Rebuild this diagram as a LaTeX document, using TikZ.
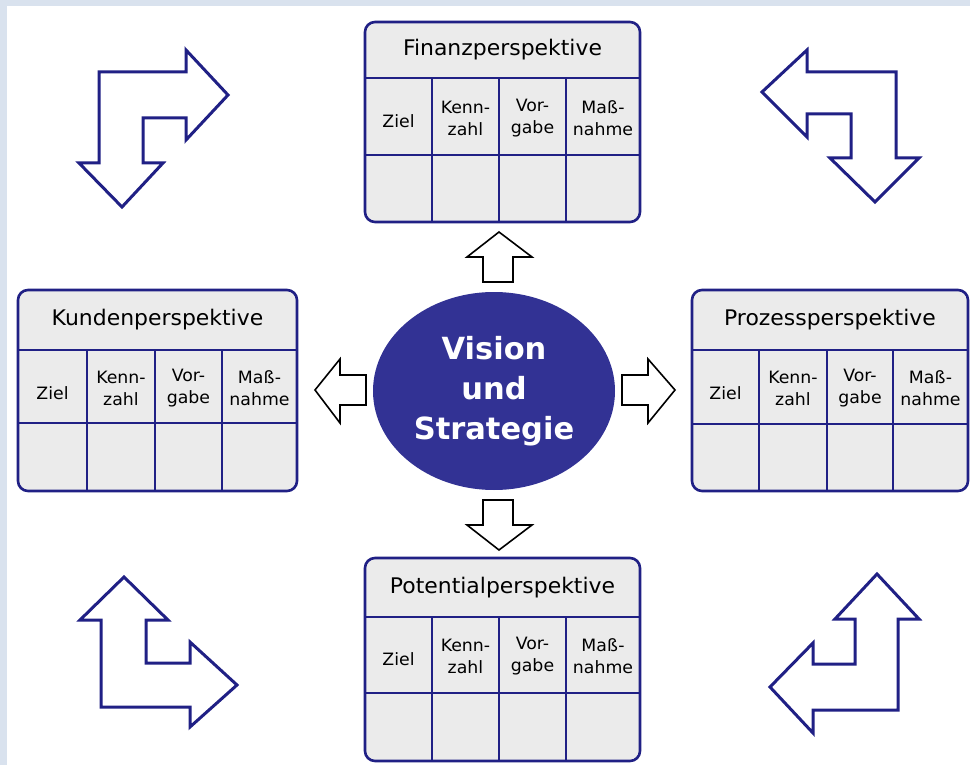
\documentclass[tikz,border=0pt]{standalone}
\usepackage{fontspec}
\usetikzlibrary{shapes.geometric}
\newfontfamily\tabfont[FakeStretch=1.02]{DejaVu Sans}
\newfontfamily\visfont{DejaVu Sans}
\definecolor{bgblue}{HTML}{D9E2EE}
\definecolor{tabgray}{HTML}{EBEBEB}
\definecolor{navy}{HTML}{202085}
\definecolor{visblue}{HTML}{323294}
\begin{document}
\begin{tikzpicture}[x=1pt,y=-1pt,
    tabframe/.style={draw=navy, line width=2.6pt, fill=tabgray, rounded corners=10pt},
    tabline/.style={draw=navy, line width=2.4pt},
    tabtitle/.style={font=\tabfont\fontsize{21.5}{24}\selectfont, inner sep=0pt},
    tabcell/.style={font=\tabfont\fontsize{17}{22}\selectfont, align=center, inner sep=0pt},
    bigarrow/.style={draw=navy, line width=3pt, fill=white},
    smallarrow/.style={draw=black, line width=1.6pt, fill=white}]
        \useasboundingbox (0,0) rectangle (970,765);
        \fill[bgblue] (0,0) rectangle (970,765);
        \fill[white] (7,6) rectangle (970,765);
        % Finanzperspektive
        \draw[tabframe] (365,22) rectangle (640,222);
        \draw[tabline] (365,78) -- (640,78);
        \draw[tabline] (365,155) -- (640,155);
        \draw[tabline] (432,78) -- (432,222);
        \draw[tabline] (499,78) -- (499,222);
        \draw[tabline] (566,78) -- (566,222);
        \node[tabtitle] (fin) at (502.5,50) {Finanzperspektive};
        \node[tabcell] (fin-ziel) at (398.5,121) {Ziel};
        \node[tabcell] (fin-kenn) at (465.5,118) {Kenn-\\zahl};
        \node[tabcell] (fin-vor) at (532.5,118) {Vor-\\gabe};
        \node[tabcell] (fin-mass) at (603,118) {Maß-\\nahme};
        % Kundenperspektive
        \draw[tabframe] (18,290) rectangle (297,491);
        \draw[tabline] (18,350) -- (297,350);
        \draw[tabline] (18,423) -- (297,423);
        \draw[tabline] (87,350) -- (87,491);
        \draw[tabline] (155,350) -- (155,491);
        \draw[tabline] (222,350) -- (222,491);
        \node[tabtitle] (kun) at (157.5,320) {Kundenperspektive};
        \node[tabcell] (kun-ziel) at (52.5,393) {Ziel};
        \node[tabcell] (kun-kenn) at (121,388) {Kenn-\\zahl};
        \node[tabcell] (kun-vor) at (188.5,388) {Vor-\\gabe};
        \node[tabcell] (kun-mass) at (259.5,388) {Maß-\\nahme};
        % Prozessperspektive
        \draw[tabframe] (692,290) rectangle (968,491);
        \draw[tabline] (692,350) -- (968,350);
        \draw[tabline] (692,424) -- (968,424);
        \draw[tabline] (759,350) -- (759,491);
        \draw[tabline] (827,350) -- (827,491);
        \draw[tabline] (893,350) -- (893,491);
        \node[tabtitle] (pro) at (830,320) {Prozessperspektive};
        \node[tabcell] (pro-ziel) at (725.5,393) {Ziel};
        \node[tabcell] (pro-kenn) at (793,388) {Kenn-\\zahl};
        \node[tabcell] (pro-vor) at (860,388) {Vor-\\gabe};
        \node[tabcell] (pro-mass) at (930.5,388) {Maß-\\nahme};
        % Potentialperspektive
        \draw[tabframe] (365,558) rectangle (640,761);
        \draw[tabline] (365,617) -- (640,617);
        \draw[tabline] (365,693) -- (640,693);
        \draw[tabline] (432,617) -- (432,761);
        \draw[tabline] (499,617) -- (499,761);
        \draw[tabline] (566,617) -- (566,761);
        \node[tabtitle] (pot) at (502.5,587.5) {Potentialperspektive};
        \node[tabcell] (pot-ziel) at (398.5,659) {Ziel};
        \node[tabcell] (pot-kenn) at (465.5,656) {Kenn-\\zahl};
        \node[tabcell] (pot-vor) at (532.5,656) {Vor-\\gabe};
        \node[tabcell] (pot-mass) at (603,656) {Maß-\\nahme};
        % Vision und Strategie
        \node[ellipse, fill=visblue, minimum width=242pt, minimum height=198pt, inner sep=0pt,
              text=white, align=center, font=\visfont\bfseries\fontsize{30.5}{40}\selectfont] (vision) at (494,391)
              {Vision\\und\\Strategie};
        % kleine Pfeile
        \draw[smallarrow] (483,282) -- (483,257) -- (467,257) -- (499,232) -- (532,257) -- (513,257) -- (513,282) -- cycle;
        \draw[smallarrow] (483,500) -- (483,525) -- (467,525) -- (499,550) -- (532,525) -- (513,525) -- (513,500) -- cycle;
        \draw[smallarrow] (366,375) -- (340,375) -- (340,359) -- (315,390) -- (340,423) -- (340,405) -- (366,405) -- cycle;
        \draw[smallarrow] (622,375) -- (648,375) -- (648,359) -- (675,390) -- (648,423) -- (648,405) -- (622,405) -- cycle;
        % grosse Pfeile
        \draw[bigarrow] (99,72) -- (186,72) -- (186,50) -- (228,95) -- (186,140) -- (186,118) -- (143,118)
            -- (143,163) -- (163,163) -- (122,207) -- (79,163) -- (99,163) -- cycle;
        \draw[bigarrow] (896,72) -- (807,72) -- (807,50) -- (762,92) -- (807,137) -- (807,114) -- (851,114)
            -- (851,158) -- (830,158) -- (875,202) -- (919,158) -- (896,158) -- cycle;
        \draw[bigarrow] (101,707) -- (101,620) -- (80,620) -- (124,577) -- (168,620) -- (146,620) -- (146,663)
            -- (190,663) -- (190,642) -- (237,685) -- (190,727) -- (190,707) -- cycle;
        \draw[bigarrow] (898,710) -- (898,619) -- (919,619) -- (877,574) -- (835,619) -- (855,619) -- (855,664)
            -- (813,664) -- (813,643) -- (770,687) -- (813,733) -- (813,710) -- cycle;
\end{tikzpicture}
\end{document}
